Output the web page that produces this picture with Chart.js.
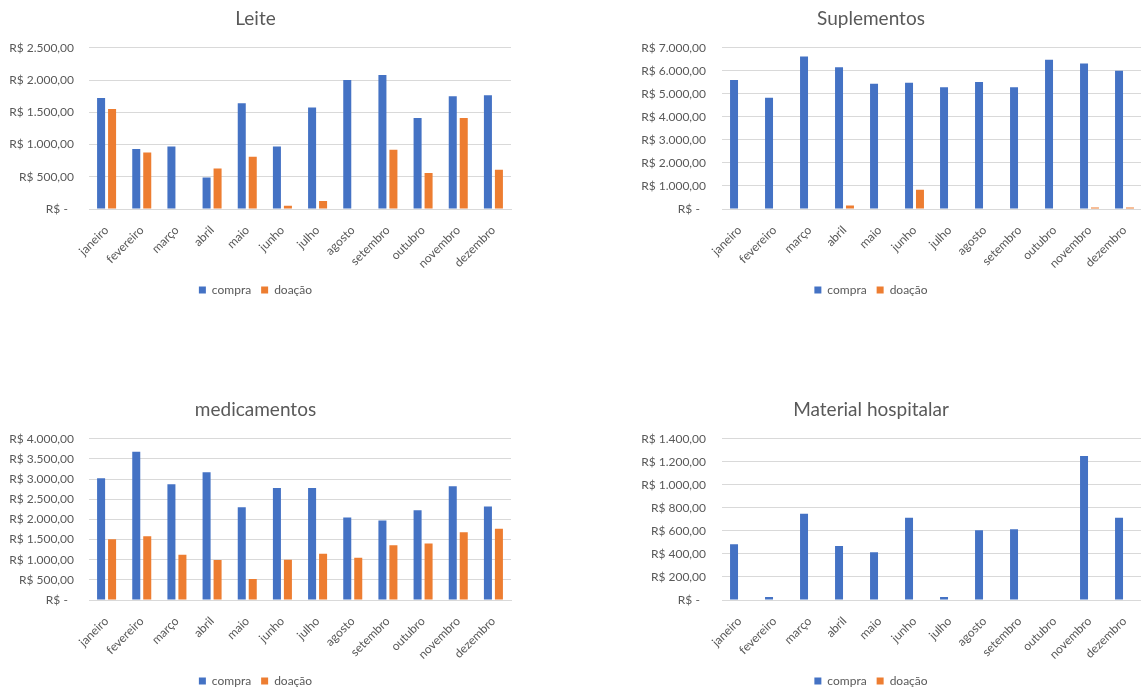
<!DOCTYPE html>
<html lang="pt-BR">
<head>
<meta charset="utf-8">
<title>Leite, Suplementos, medicamentos, Material hospitalar</title>
<script src="https://cdn.jsdelivr.net/npm/chart.js@4/dist/chart.umd.min.js"></script>
<style>
  html, body { margin: 0; padding: 0; background: #fff; overflow: hidden; width: 1141px; height: 687px; }
  canvas { position: absolute; }
</style>
</head>
<body>
<canvas id="leite" width="515" height="306" style="left:0;top:0"></canvas>
<canvas id="suplementos" width="592" height="306" style="left:600px;top:0"></canvas>
<canvas id="medicamentos" width="515" height="306" style="left:0;top:391px"></canvas>
<canvas id="material" width="592" height="306" style="left:600px;top:391px"></canvas>
<script>
const meses = ["janeiro", "fevereiro", "março", "abril", "maio", "junho",
  "julho", "agosto", "setembro", "outubro", "novembro", "dezembro"];
const series = ["compra", "doação"];

const leiteCompra = [1720, 930, 970, 490, 1640, 970, 1575, 2000, 2080, 1410, 1750, 1765];
const leiteDoacao = [1550, 875, 0, 630, 810, 50, 125, 0, 920, 560, 1410, 610];

const suplCompra = [5600, 4830, 6620, 6160, 5440, 5480, 5290, 5520, 5290, 6480, 6320, 6000];
const suplDoacao = [0, 0, 0, 150, 0, 840, 0, 0, 0, 0, 70, 70];

const medCompra = [3020, 3680, 2870, 3170, 2300, 2780, 2780, 2050, 1970, 2230, 2820, 2320];
const medDoacao = [1510, 1580, 1120, 990, 520, 1000, 1150, 1050, 1360, 1400, 1680, 1770];

const matCompra = [485, 25, 750, 470, 415, 715, 25, 605, 615, 0, 1250, 715];
const matDoacao = [0, 0, 0, 0, 0, 0, 0, 0, 0, 0, 0, 0];

// y axis ranges: [max, step]
const leiteEixo = [2500, 500];
const suplEixo = [7000, 1000];
const medEixo = [4000, 500];
const matEixo = [1400, 200];

const azul = "#4472C4";
const laranja = "#ED7D31";
const cinza = "#595959";
const grade = "#D9D9D9";

Chart.defaults.font.family = "Lato";
Chart.defaults.color = cinza;

// excel accounting style: "R$ 2.500,00" / "R$ -"
function reais(v) {
  if (v === 0) return "R$ -  ";
  const s = Math.round(v).toString().replace(/\B(?=(\d{3})+(?!\d))/g, ".");
  return "R$ " + s + ",00";
}

function makeChart(id, titulo, compra, doacao, eixo, axisWidth, tickPad, padRight) {
  return new Chart(document.getElementById(id), {
    type: "bar",
    data: {
      labels: meses,
      datasets: [
        { label: series[0], data: compra, backgroundColor: azul },
        { label: series[1], data: doacao, backgroundColor: laranja },
      ],
    },
    options: {
      responsive: false,
      animation: false,
      categoryPercentage: 0.625,
      barPercentage: 0.73,
      layout: { padding: { left: 0, right: padRight, top: 0, bottom: 0 } },
      plugins: {
        title: {
          display: true,
          text: titulo,
          color: cinza,
          font: { size: 19, weight: "normal" },
          padding: { top: 7, bottom: 18 },
        },
        legend: {
          position: "bottom",
          labels: {
            boxWidth: 7,
            boxHeight: 7,
            padding: 10,
            color: cinza,
            font: { size: 12 },
          },
        },
        tooltip: { enabled: false },
      },
      scales: {
        x: {
          grid: { display: false },
          border: { color: grade },
          ticks: { minRotation: 45, maxRotation: 45, padding: 6, font: { size: 12 }, color: cinza },
          afterFit: (s) => { s.height = 65; },
        },
        y: {
          min: 0,
          max: eixo[0],
          grid: { color: grade, drawTicks: false },
          border: { display: false },
          ticks: {
            stepSize: eixo[1],
            padding: tickPad,
            font: { size: 12 },
            color: cinza,
            callback: (v) => reais(v),
          },
          afterFit: (s) => { s.width = axisWidth; },
        },
      },
    },
  });
}

makeChart("leite", "Leite", leiteCompra, leiteDoacao, leiteEixo, 89, 15, 4);
makeChart("suplementos", "Suplementos", suplCompra, suplDoacao, suplEixo, 122, 16, 50);
makeChart("medicamentos", "medicamentos", medCompra, medDoacao, medEixo, 89, 15, 4);
makeChart("material", "Material hospitalar", matCompra, matDoacao, matEixo, 122, 16, 50);
</script>
</body>
</html>
